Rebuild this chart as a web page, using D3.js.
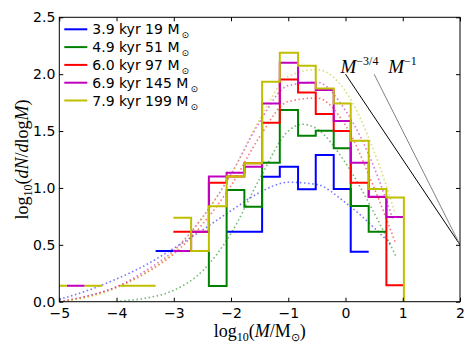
<!DOCTYPE html>
<html>
<head>
<meta charset="utf-8">
<script src="https://cdn.jsdelivr.net/npm/d3@7"></script>
<style>
  body { margin: 0; background: #fff; }
  text { font-family: "DejaVu Sans", sans-serif; }
  .math { font-family: "Liberation Serif", serif; }
</style>
</head>
<body>
<svg id="chart" width="474" height="356"></svg>
<script>
// histogram bin edges in log10(M/Msun), shared by all snapshots
const binEdges = [-5.177, -4.867, -4.557, -4.247, -3.937, -3.627, -3.317, -3.007, -2.697, -2.387, -2.077,
                  -1.767, -1.457, -1.148, -0.829, -0.520, -0.206, 0.091, 0.405, 0.714, 1.02, 1.33];

// log10(dN/dlogM) per bin, null = empty bin (no line drawn)
const blueVals    = [null, null, null, null, null, null, 0.445, null, null, null, 0.615, 0.615, 1.098, 1.186, 0.988, 1.289, 0.99, 0.44, null, null, null];
const greenVals   = [null, null, null, null, null, null, null, null, 0.445, 0.138, 0.982, 0.835, 1.222, 1.685, 1.459, 1.503, 1.348, 0.841, 0.615, null, null];
const redVals     = [null, null, null, null, null, null, null, 0.615, 0.615, 1.045, 1.10, 1.216, 1.573, 1.954, 1.84, 1.649, 1.50, 1.046, 0.92, 0.145, null];
const magentaVals = [null, 0.14, null, null, null, null, null, 0.445, 0.615, 1.10, 1.134, 1.186, 1.743, 2.10, 1.925, 1.86, 1.588, 1.222, 0.923, 0.744, null];
// last yellow bin is empty: log10(0) falls off the bottom of the axes
const yellowVals  = [0.14, null, 0.14, null, 0.14, 0.14, null, 0.738, 0.445, 0.84, 1.10, 1.216, 1.933, 2.188, 2.074, 1.875, 1.743, 1.415, 0.99, 0.917, -1];

// lognormal fits (dotted)
const blueFitX    = [-5, -4.5, -4, -3.5, -3, -2.5, -2, -1.5, -1, -0.5, 0, 0.5, 0.8];
const blueFitY    = [0.02, 0.10, 0.20, 0.32, 0.47, 0.63, 0.80, 0.96, 1.05, 1.03, 0.87, 0.65, 0.50];
const greenFitX   = [-4.5, -4, -3.5, -3, -2.5, -2, -1.5, -1, -0.75, -0.5, 0, 0.5, 0.88];
const greenFitY   = [-0.05, 0.0, 0.03, 0.10, 0.27, 0.60, 1.08, 1.50, 1.56, 1.52, 1.22, 0.78, 0.40];
const redFitX     = [-5, -4.5, -4, -3.5, -3, -2.5, -2, -1.5, -1, -0.5, 0, 0.5, 0.87];
const redFitY     = [0.0, 0.05, 0.13, 0.25, 0.42, 0.68, 1.02, 1.45, 1.76, 1.79, 1.55, 1.0, 0.52];
const magentaFitX = [-5, -4.5, -4, -3.5, -3, -2.5, -2, -1.5, -1, -0.5, 0, 0.5, 0.83];
const magentaFitY = [0.0, 0.05, 0.13, 0.27, 0.45, 0.74, 1.12, 1.58, 1.90, 1.93, 1.68, 1.18, 0.72];
const yellowFitX  = [-5, -4.5, -4, -3.5, -3, -2.5, -2, -1.5, -1, -0.5, 0, 0.5, 0.86];
const yellowFitY  = [0.0, 0.04, 0.12, 0.25, 0.44, 0.74, 1.12, 1.60, 1.98, 2.04, 1.85, 1.32, 0.79];

const legendLabels = ["3.9 kyr 19 M", "4.9 kyr 51 M", "6.0 kyr 97 M", "6.9 kyr 145 M", "7.9 kyr 199 M"];
const colors = ["#0000ff", "#008000", "#ff0000", "#bf00bf", "#bfbf00"];

// reference power laws through (2, 0.5)
const slope34X = [0, 2], slope34Y = [2.0, 0.5];
const slope1X = [0.5, 2], slope1Y = [2.0, 0.5];

const xTicks = [-5, -4, -3, -2, -1, 0, 1, 2];
const yTicks = [0, 0.5, 1.0, 1.5, 2.0, 2.5];

const svg = d3.select("#chart");
let margin = {top: 17.3, right: 14, bottom: 54.3, left: 59.3},
    width = +svg.attr("width") - margin.left - margin.right,
    height = +svg.attr("height") - margin.top - margin.bottom,
    g = svg.append("g").attr("transform", "translate(" + margin.left + "," + margin.top + ")");

let x = d3.scaleLinear().domain([-5, 2]).range([0, width]);
let y = d3.scaleLinear().domain([0, 2.5]).range([height, 0]);

svg.append("clipPath").attr("id", "plotclip")
    .append("rect").attr("width", width).attr("height", height);

let plot = g.append("g").attr("clip-path", "url(#plotclip)");

let hists = [blueVals, greenVals, redVals, magentaVals, yellowVals];
let fits = [[blueFitX, blueFitY], [greenFitX, greenFitY], [redFitX, redFitY],
            [magentaFitX, magentaFitY], [yellowFitX, yellowFitY]];

let line = d3.line()
    .defined(function(d) { return d != null; })
    .x(function(d) { return x(d[0]); })
    .y(function(d) { return y(d[1]); });

// dotted fits
fits.forEach(function(f, i) {
    plot.append("path")
        .datum(f[0].map(function(v, j) { return [v, f[1][j]]; }))
        .attr("fill", "none")
        .attr("stroke", colors[i])
        .attr("stroke-opacity", 0.55)
        .attr("stroke-width", 1.6)
        .attr("stroke-dasharray", "1.5,2.6")
        .attr("d", line.curve(d3.curveMonotoneX));
});

// step histograms (steps between bin edges, broken at empty bins)
hists.forEach(function(vals, i) {
    let pts = [];
    vals.forEach(function(v, j) {
        if (v == null) return;
        pts.push([binEdges[j], v]);
        if (vals[j + 1] == null) {
            pts.push([binEdges[j + 1], v]);
            pts.push(null);
        }
    });
    plot.append("path")
        .datum(pts)
        .attr("fill", "none")
        .attr("stroke", colors[i])
        .attr("stroke-width", 2)
        .attr("stroke-linejoin", "miter")
        .attr("d", line.curve(d3.curveStepAfter));
});

// power-law guides
plot.append("path")
    .datum(slope34X.map(function(v, j) { return [v, slope34Y[j]]; }))
    .attr("fill", "none").attr("stroke", "#000").attr("stroke-width", 1)
    .attr("d", line.curve(d3.curveLinear));
plot.append("path")
    .datum(slope1X.map(function(v, j) { return [v, slope1Y[j]]; }))
    .attr("fill", "none").attr("stroke", "#808080").attr("stroke-width", 1)
    .attr("d", line.curve(d3.curveLinear));

let pl1 = g.append("text").attr("class", "math")
    .attr("x", x(slope34X[0]) - 5).attr("y", y(slope34Y[0]) - 1)
    .attr("font-size", 19);
pl1.append("tspan").attr("font-style", "italic").text("M");
pl1.append("tspan").attr("font-size", 12).attr("dy", -8).text("−3/4");

let pl2 = g.append("text").attr("class", "math")
    .attr("x", x(slope1X[0]) + 14).attr("y", y(slope1Y[0]) - 1)
    .attr("font-size", 19);
pl2.append("tspan").attr("font-style", "italic").text("M");
pl2.append("tspan").attr("font-size", 12).attr("dy", -8).text("−1");

// axes, matplotlib style: ticks inside on all four sides
let styleAxis = function(sel) {
    sel.selectAll("text").attr("font-size", 14).attr("font-family", "DejaVu Sans").attr("fill", "#000");
    sel.select(".domain").remove();
    sel.selectAll("line").attr("stroke", "#000");
};

g.append("g")
    .attr("transform", "translate(0," + height + ")")
    .call(d3.axisBottom(x).tickValues(xTicks).tickSize(-4).tickPadding(6).tickFormat(d3.format("d")))
    .call(styleAxis);
g.append("g")
    .call(d3.axisTop(x).tickValues(xTicks).tickSize(-4).tickFormat(""))
    .call(styleAxis);
g.append("g")
    .call(d3.axisLeft(y).tickValues(yTicks).tickSize(-4).tickPadding(4).tickFormat(d3.format(".1f")))
    .call(styleAxis);
g.append("g")
    .attr("transform", "translate(" + width + ",0)")
    .call(d3.axisRight(y).tickValues(yTicks).tickSize(-4).tickFormat(""))
    .call(styleAxis);

g.append("rect")
    .attr("width", width).attr("height", height)
    .attr("fill", "none").attr("stroke", "#000").attr("stroke-width", 1);

// axis labels
let xl = g.append("text").attr("class", "math")
    .attr("x", width / 2).attr("y", height + 35)
    .attr("text-anchor", "middle").attr("font-size", 18);
xl.append("tspan").text("log");
xl.append("tspan").attr("font-size", 12).attr("dy", 4).text("10");
xl.append("tspan").attr("dy", -4).text("(");
xl.append("tspan").attr("font-style", "italic").text("M");
xl.append("tspan").text("/M");
xl.append("tspan").attr("font-size", 11).attr("dy", 4).text("⊙");
xl.append("tspan").attr("dy", -4).text(")");

let yl = g.append("text").attr("class", "math")
    .attr("transform", "translate(" + (-31) + "," + (height / 2) + ") rotate(-90)")
    .attr("text-anchor", "middle").attr("font-size", 18);
yl.append("tspan").text("log");
yl.append("tspan").attr("font-size", 12).attr("dy", 4).text("10");
yl.append("tspan").attr("dy", -4).text("(");
yl.append("tspan").attr("font-style", "italic").text("dN");
yl.append("tspan").text("/");
yl.append("tspan").attr("font-style", "italic").text("d");
yl.append("tspan").text("log");
yl.append("tspan").attr("font-style", "italic").text("M");
yl.append("tspan").text(")");

// legend, no frame
let legend = g.append("g").attr("transform", "translate(5,12)");
legendLabels.forEach(function(lab, i) {
    let row = legend.append("g").attr("transform", "translate(0," + (i * 17.8) + ")");
    row.append("line").attr("x1", 0).attr("x2", 23)
        .attr("stroke", colors[i]).attr("stroke-width", 2);
    let t = row.append("text").attr("x", 28).attr("y", 5).attr("font-size", 14);
    t.append("tspan").text(lab);
    t.append("tspan").attr("font-size", 9).attr("dx", 2).attr("dy", 4).text("⊙");
});
</script>
</body>
</html>
